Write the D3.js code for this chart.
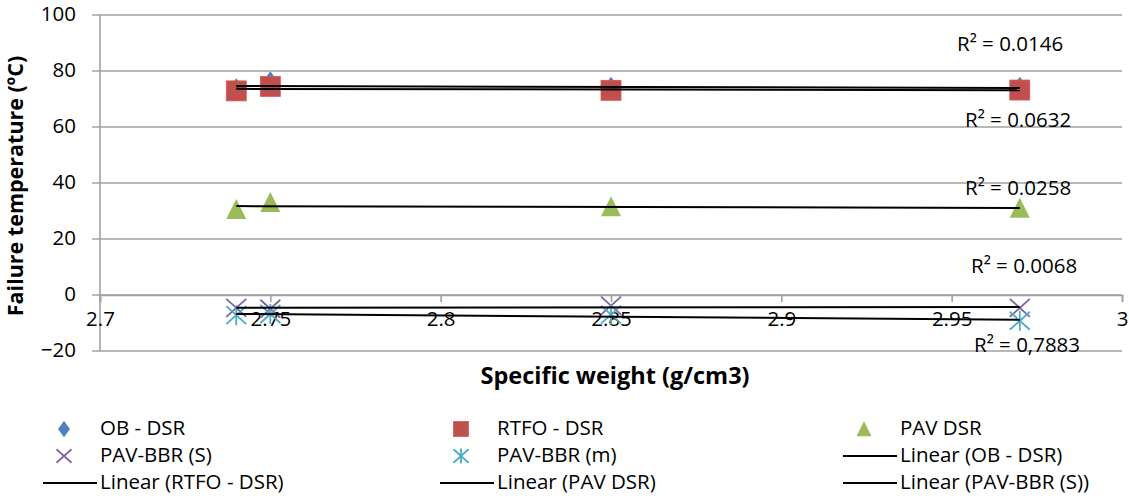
<!DOCTYPE html>
<html>
<head>
<meta charset="utf-8">
<script src="https://cdn.jsdelivr.net/npm/d3@7"></script>
<style>
  html, body { margin: 0; padding: 0; background: #fff; }
  svg text { font-family: "Open Sans", "Liberation Sans", sans-serif; fill: #000; }
</style>
</head>
<body>
<svg id="chart" width="1129" height="503"></svg>
<script>
// Specific weight (g/cm3) of each binder sample
const specificWeight = [2.74, 2.75, 2.85, 2.97];

// Failure temperatures (°C) per test
const obDsr    = [73.5, 76.0, 74.0, 74.0];
const rtfoDsr  = [72.9, 74.5, 73.1, 73.2];
const pavDsr   = [30.5, 33.0, 31.5, 31.0];
const pavBbrS  = [-4.6, -4.9, -3.8, -4.6];
const pavBbrM  = [-7.2, -6.8, -7.0, -9.2];

// Axis ticks
const xTicks = [2.7, 2.75, 2.8, 2.85, 2.9, 2.95, 3];
const yTicks = [-20, 0, 20, 40, 60, 80, 100];

// R² annotations shown for each linear trend line
const r2Labels = ["R² = 0.0146", "R² = 0.0632", "R² = 0.0258", "R² = 0.0068", "R² = 0,7883"];

const seriesNames = ["OB - DSR", "RTFO - DSR", "PAV DSR", "PAV-BBR (S)", "PAV-BBR (m)"];
const seriesValues = [obDsr, rtfoDsr, pavDsr, pavBbrS, pavBbrM];
const seriesColors = ["#4F81BD", "#C0504D", "#9BBB59", "#8064A2", "#4BACC6"];
const seriesShapes = ["diamond", "square", "triangle", "x", "star"];

const svg = d3.select("#chart");
svg.append("rect").attr("width", 1129).attr("height", 503).attr("fill", "#fff");

const x = d3.scaleLinear().domain([2.7, 3]).range([100, 1122]);
const y = d3.scaleLinear().domain([-20, 100]).range([351, 15]);

const gridColor = "#a0a0a0";

// horizontal gridlines
svg.append("g").selectAll("line").data(yTicks).join("line")
  .attr("x1", x(2.7) - 8).attr("x2", x(3))
  .attr("y1", d => y(d)).attr("y2", d => y(d))
  .attr("stroke", gridColor).attr("stroke-width", 1.6);

// vertical value axis
svg.append("line")
  .attr("x1", x(2.7)).attr("x2", x(2.7))
  .attr("y1", y(100)).attr("y2", y(-20))
  .attr("stroke", gridColor).attr("stroke-width", 1.6);

// y tick labels
svg.append("g").selectAll("text").data(yTicks).join("text")
  .attr("x", 76).attr("y", d => y(d) + 1)
  .attr("text-anchor", "end").attr("dominant-baseline", "middle")
  .attr("font-size", 20.5)
  .text(d => d3.format("d")(d));

// horizontal axis through zero with ticks below
const xAxis = d3.axisBottom(x).tickValues(xTicks).tickSize(7).tickFormat(d => d3.format("~g")(d));
const gx = svg.append("g").attr("transform", `translate(0,${y(0)})`).call(xAxis);
gx.select(".domain").attr("stroke", gridColor).attr("stroke-width", 1.6);
gx.selectAll(".tick line").attr("stroke", gridColor).attr("stroke-width", 1.6);
gx.selectAll(".tick text")
  .attr("font-size", 20.5)
  .attr("font-family", "'Open Sans', sans-serif")
  .attr("fill", "#000")
  .attr("y", 24).attr("dy", "0.32em");

// marker symbol generator
function drawMarker(g, shape, color, cx, cy, s) {
  const h = s / 2;
  if (shape === "diamond") {
    g.append("path").attr("d", `M${cx},${cy - h * 1.1}L${cx + h * 0.8},${cy}L${cx},${cy + h * 1.1}L${cx - h * 0.8},${cy}Z`).attr("fill", color);
  } else if (shape === "square") {
    g.append("rect").attr("x", cx - h).attr("y", cy - h).attr("width", s).attr("height", s)
      .attr("fill", color).attr("stroke", d3.color(color).brighter(0.3)).attr("stroke-width", 0.8);
  } else if (shape === "triangle") {
    g.append("path").attr("d", `M${cx},${cy - h * 1.05}L${cx + h},${cy + h * 0.95}L${cx - h},${cy + h * 0.95}Z`).attr("fill", color);
  } else if (shape === "x") {
    g.append("path").attr("d", `M${cx - h},${cy - h * 0.9}L${cx + h},${cy + h * 0.9}M${cx + h},${cy - h * 0.9}L${cx - h},${cy + h * 0.9}`)
      .attr("stroke", color).attr("stroke-width", 1.8).attr("fill", "none");
  } else if (shape === "star") {
    g.append("path").attr("d", `M${cx - h},${cy - h * 0.9}L${cx + h},${cy + h * 0.9}M${cx + h},${cy - h * 0.9}L${cx - h},${cy + h * 0.9}M${cx},${cy - h}L${cx},${cy + h}`)
      .attr("stroke", color).attr("stroke-width", 1.8).attr("fill", "none");
  }
}

// data markers
const markers = svg.append("g");
seriesValues.forEach((vals, i) => {
  vals.forEach((v, j) => drawMarker(markers, seriesShapes[i], seriesColors[i], x(specificWeight[j]), y(v), 20));
});

// least-squares linear trend lines over the sample range
function linearFit(xs, ys) {
  const mx = d3.mean(xs), my = d3.mean(ys);
  const sxy = d3.sum(xs, (d, i) => (d - mx) * (ys[i] - my));
  const sxx = d3.sum(xs, d => (d - mx) * (d - mx));
  const b = sxy / sxx;
  return t => my + b * (t - mx);
}
const xMin = d3.min(specificWeight), xMax = d3.max(specificWeight);
const trend = svg.append("g");
seriesValues.forEach(vals => {
  const f = linearFit(specificWeight, vals);
  trend.append("line")
    .attr("x1", x(xMin)).attr("x2", x(xMax))
    .attr("y1", y(f(xMin))).attr("y2", y(f(xMax)))
    .attr("stroke", "#000").attr("stroke-width", 2);
});

// R² annotations
const r2Pos = [[957, 46], [965, 122], [965, 190], [971, 268], [974, 347]];
svg.append("g").selectAll("text").data(r2Labels).join("text")
  .attr("x", (d, i) => r2Pos[i][0]).attr("y", (d, i) => r2Pos[i][1])
  .attr("dominant-baseline", "middle").attr("font-size", 20.5)
  .text(d => d);

// axis titles
svg.append("text")
  .attr("x", 615).attr("y", 384)
  .attr("text-anchor", "middle")
  .attr("font-size", 23.5).attr("font-weight", "bold")
  .text("Specific weight (g/cm3)");
svg.append("text")
  .attr("transform", `translate(23,186) rotate(-90)`)
  .attr("text-anchor", "middle")
  .attr("font-size", 21.5).attr("font-weight", "bold")
  .text("Failure temperature (ºC)");

// legend
const legendItems = seriesNames.map((n, i) => ({ name: n, type: "marker", i }))
  .concat(seriesNames.slice(0, 4).map(n => ({ name: `Linear (${n})`, type: "line" })));
const colX = [100, 497, 900];
const rowY = [429, 456, 483];
const legend = svg.append("g");
legendItems.forEach((item, k) => {
  const cx = colX[k % 3], cy = rowY[Math.floor(k / 3)];
  if (item.type === "marker") {
    drawMarker(legend, seriesShapes[item.i], seriesColors[item.i], cx - 36, cy, 15);
  } else {
    legend.append("line").attr("x1", cx - 57).attr("x2", cx - 3)
      .attr("y1", cy).attr("y2", cy).attr("stroke", "#000").attr("stroke-width", 2);
  }
  legend.append("text").attr("x", cx).attr("y", cy + 1)
    .attr("dominant-baseline", "middle").attr("font-size", 20.5)
    .text(item.name);
});
</script>
</body>
</html>
